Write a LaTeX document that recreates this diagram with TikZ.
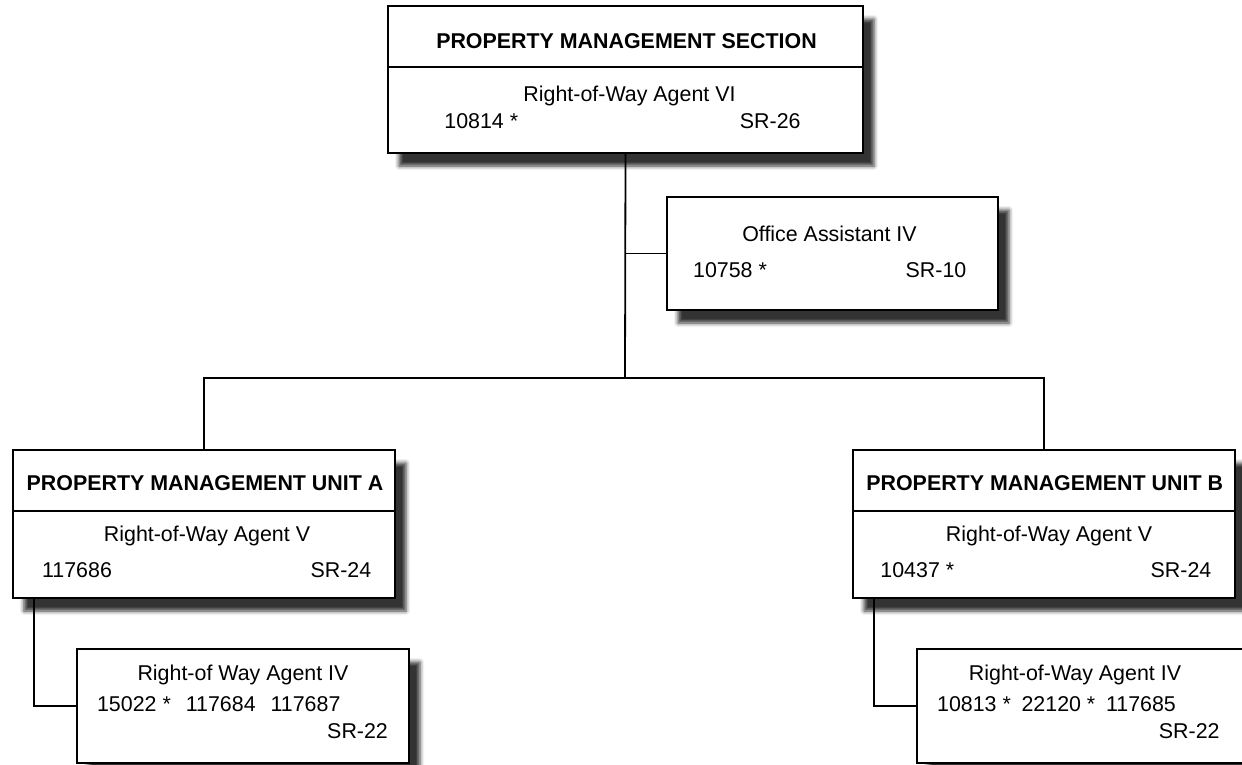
\documentclass[tikz,border=0pt]{standalone}
\usepackage{fontspec}
\setmainfont{Liberation Sans}
\usetikzlibrary{shadows.blur}
\newcommand\chartfont{\fontsize{10.7}{12.8}\selectfont}

\begin{document}
\begin{tikzpicture}[x=0.5pt,y=-0.5pt,font=\chartfont]
  \tikzstyle{jobbox}=[draw, line width=1.2pt, fill=white, inner sep=0pt,
       blur shadow={shadow xshift=5.5pt, shadow yshift=-6.5pt,
                    shadow blur radius=2pt, shadow opacity=80}]
  \tikzstyle{title}=[font=\chartfont\bfseries, anchor=base, inner sep=0pt]
  \tikzstyle{role}=[anchor=base, inner sep=0pt]
  \tikzstyle{posno}=[anchor=base west, inner sep=0pt]
  \tikzstyle{grade}=[anchor=base east, inner sep=0pt]
  \tikzstyle{rule}=[line width=0.8pt]
  \tikzstyle{link}=[line width=0.9pt]
  \useasboundingbox (0,0) rectangle (1242,765);

  % boxes
  \node[jobbox, minimum width=237.5pt, minimum height=73.5pt] (sect) at (625.5,79.5) {};
  \node[jobbox, minimum width=165.5pt, minimum height=56.5pt] (office) at (832.5,253.5) {};
  \node[jobbox, minimum width=191pt, minimum height=74pt] (unitA) at (204,524) {};
  \node[jobbox, minimum width=191pt, minimum height=74pt] (unitB) at (1044,524) {};
  \node[jobbox, minimum width=166pt, minimum height=57pt] (subA) at (243,706) {};
  \node[jobbox, minimum width=166pt, minimum height=57pt] (subB) at (1083,706) {};

  % title rules
  \draw[rule] (sect.west |- 0,67) -- (sect.east |- 0,67);
  \draw[rule] (unitA.west |- 0,511) -- (unitA.east |- 0,511);
  \draw[rule] (unitB.west |- 0,511) -- (unitB.east |- 0,511);

  % section
  \node[title] (sect-t) at (626.5,48.3) {PROPERTY MANAGEMENT SECTION};
  \node[role] (sect-r) at (629.5,101.5) {Right-of-Way Agent VI};
  \node[posno] (sect-n) at (444,129) {10814 *};
  \node[grade] (sect-g) at (801,129) {SR-26};

  \node[role] (office-r) at (829.5,241) {Office Assistant IV};
  \node[posno] (office-n) at (692.7,277) {10758 *};
  \node[grade] (office-g) at (966.7,277) {SR-10};

  % unit A
  \node[title] (unitA-t) at (205,490) {PROPERTY MANAGEMENT UNIT A};
  \node[role] (unitA-r) at (207,541.7) {Right-of-Way Agent V};
  \node[posno] (unitA-n) at (41.7,577.7) {117686};
  \node[grade] (unitA-g) at (371.7,577.7) {SR-24};

  \node[role] (subA-r) at (243,680) {Right-of Way Agent IV};
  \node[posno] (subA-n) at (96.7,711.7) {15022 *\hspace{0.7em}117684\hspace{0.7em}117687};
  \node[grade] (subA-g) at (388.3,738.3) {SR-22};

  % unit B
  \node[title] (unitB-t) at (1044.7,490) {PROPERTY MANAGEMENT UNIT B};
  \node[role] (unitB-r) at (1049,541.7) {Right-of-Way Agent V};
  \node[posno] (unitB-n) at (880,577) {10437 *};
  \node[grade] (unitB-g) at (1211.7,577.7) {SR-24};

  \node[role] (subB-r) at (1075,680) {Right-of-Way Agent IV};
  \node[posno] (subB-n) at (936.7,711.7) {10813 *\hspace{0.5em}22120 *\hspace{0.5em}117685};
  \node[grade] (subB-g) at (1220,738) {SR-22};

  % connectors
  \coordinate (bus) at (625,378);
  \draw[link] (sect.south) -- (bus);
  \draw[link] (sect.south) |- (office.west);
  \draw[link] (unitA.north) |- (bus) -| (unitB.north);
  \draw[link] ([xshift=11pt]unitA.south west) |- (subA.west);
  \draw[link] ([xshift=11pt]unitB.south west) |- (subB.west);
\end{tikzpicture}
\end{document}
